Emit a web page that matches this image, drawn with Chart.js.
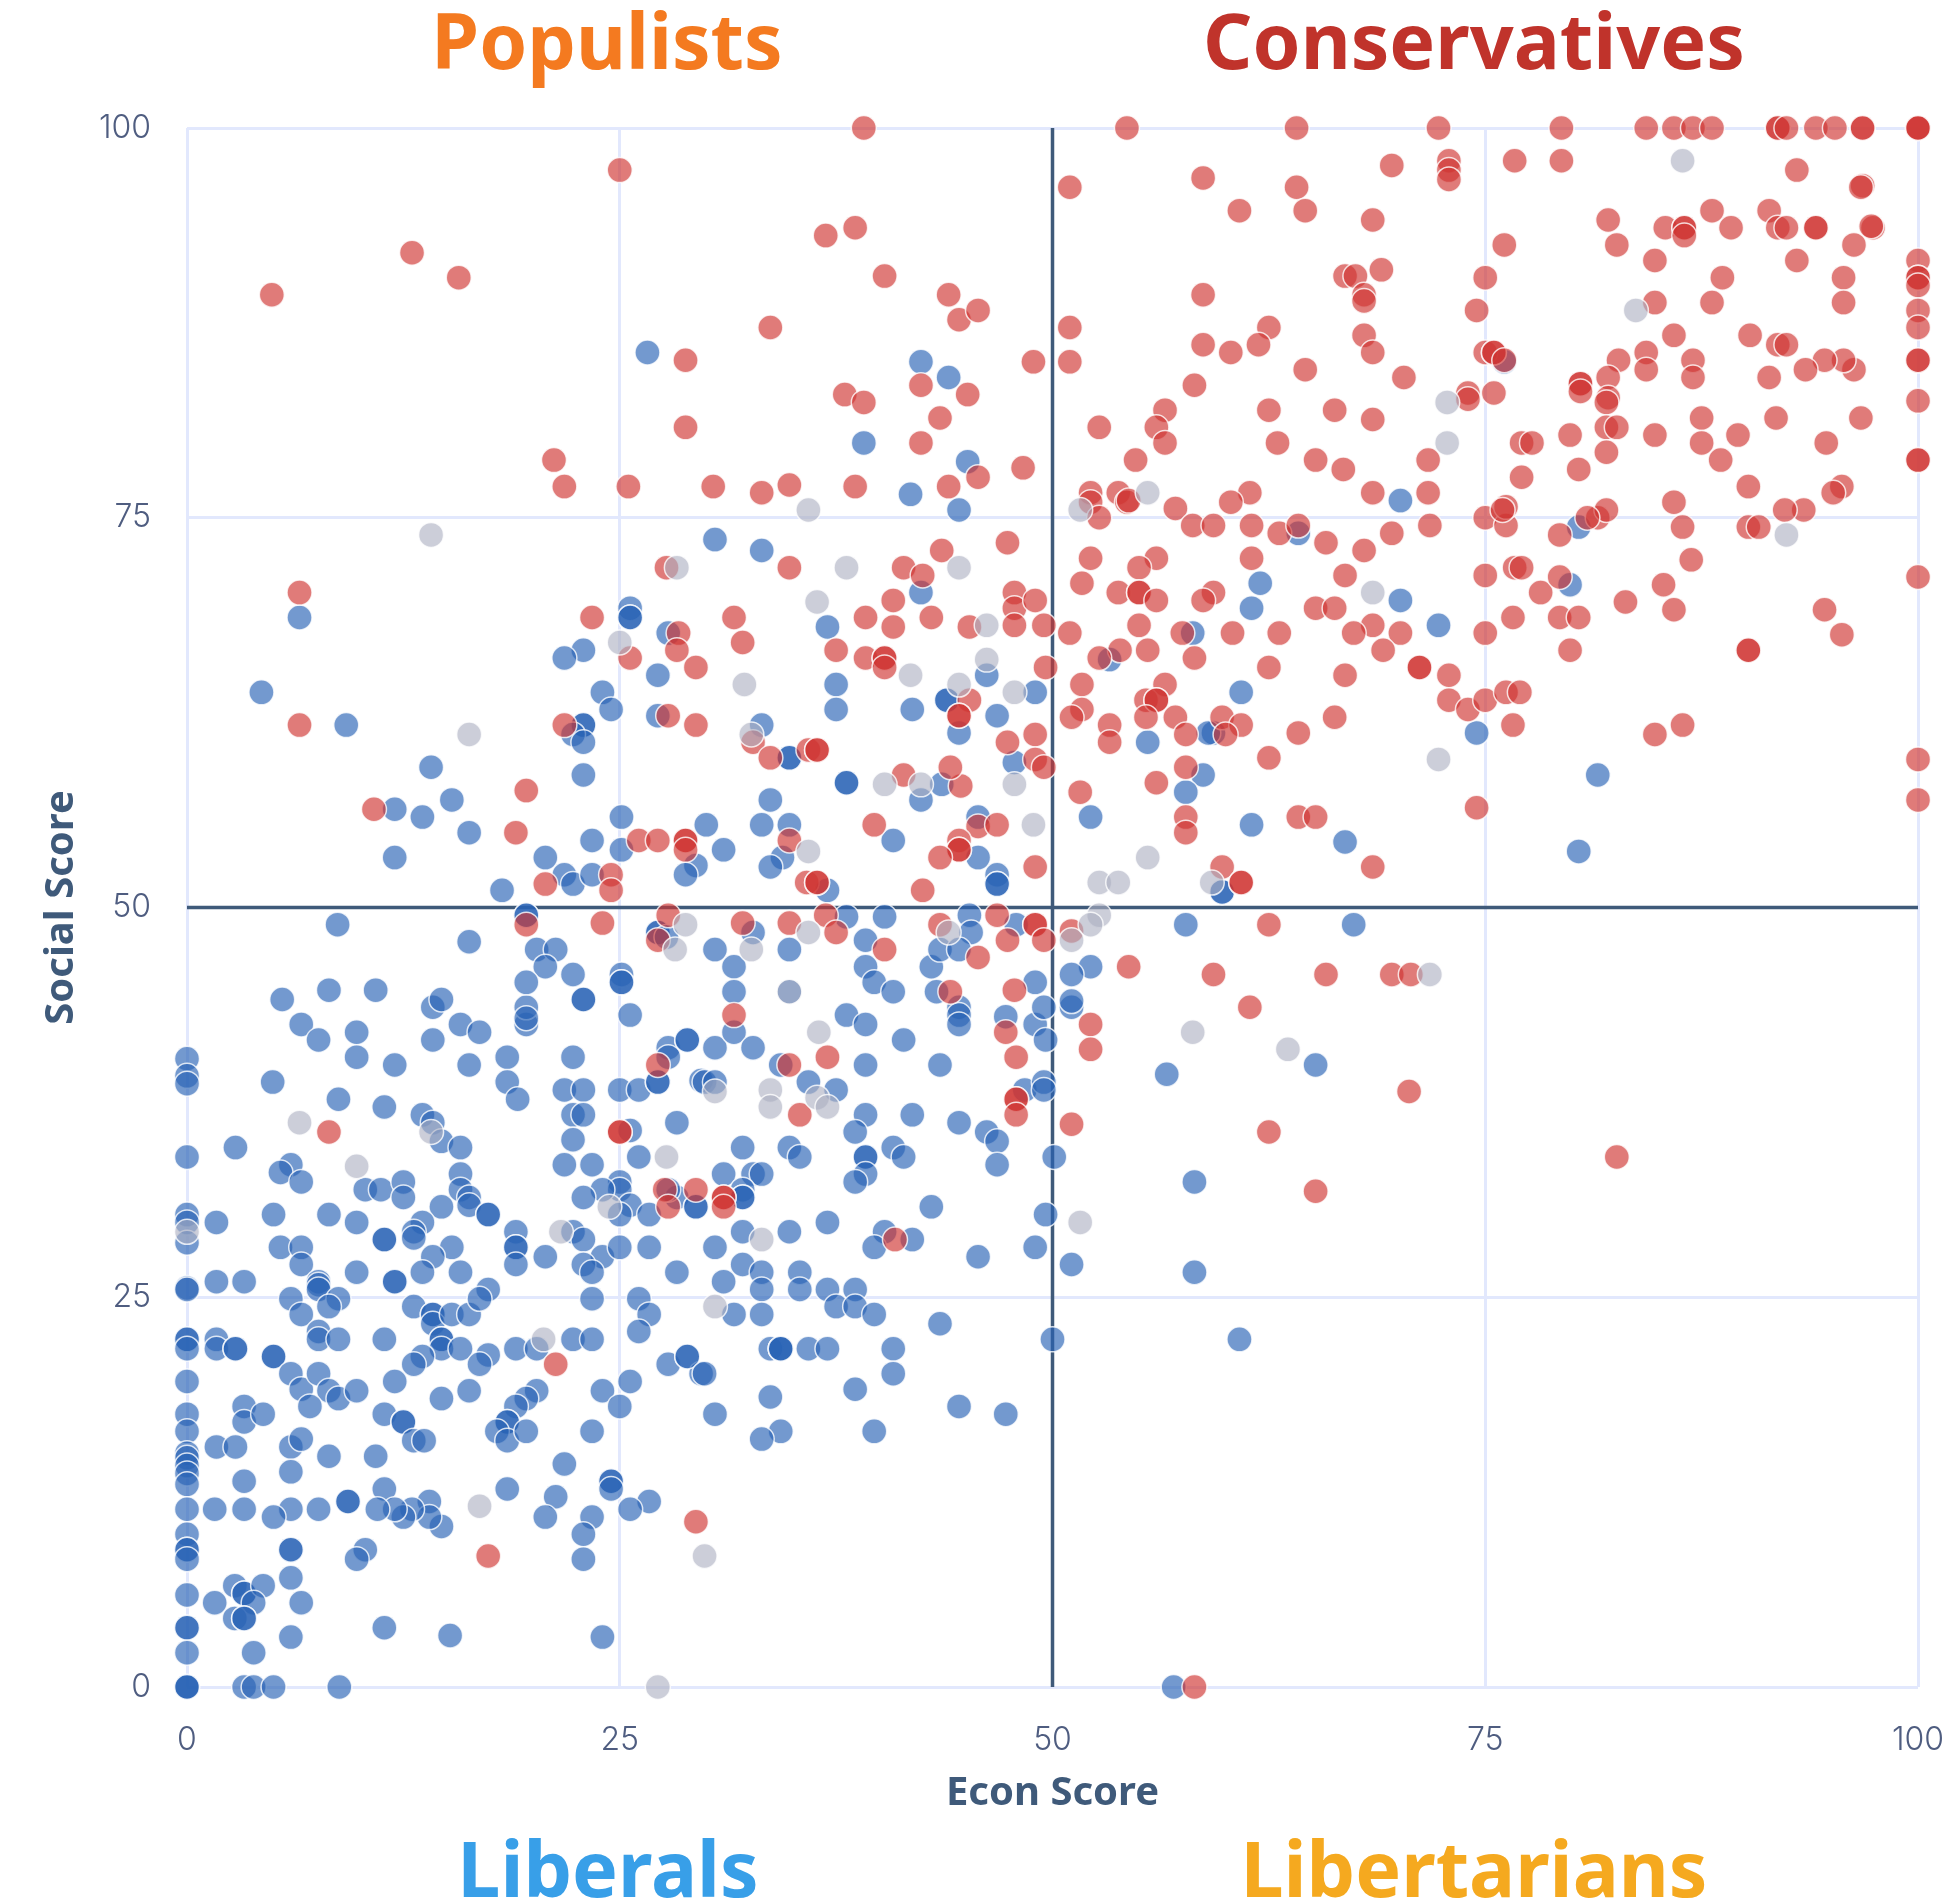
<!DOCTYPE html>
<html lang="en">
<head>
    <meta charset="UTF-8">
    <title>Econ vs Social Score</title>
    <script src="https://cdn.jsdelivr.net/npm/chart.js"></script>
    <style>
        body { margin: 0; background: #fff; }
        .wrap { position: relative; width: 1958px; height: 1901px; overflow: hidden; }
        .quadrant {
            position: absolute;
            width: 800px;
            text-align: center;
            font-family: "Noto Sans", sans-serif;
            font-weight: 700;
            font-size: 77px;
            line-height: 90px;
            white-space: nowrap;
        }
    </style>
</head>
<body>
<div class="wrap">
    <canvas id="chart" width="1958" height="1901"></canvas>
    <div class="quadrant" style="left:207px;top:-5px;color:#f47a20">Populists</div>
    <div class="quadrant" style="left:1074px;top:-5px;color:#c0332b">Conservatives</div>
    <div class="quadrant" style="left:208px;top:1823px;color:#389fe8">Liberals</div>
    <div class="quadrant" style="left:1074px;top:1823px;color:#f5a91f">Libertarians</div>
</div>
<script>
// [econ, social]
const bluePoints = [
    [0,40.3],[0,39.2],[0,38.7],[0,34],[0,30.3],[0,29.8],[0,28.5],[0,25.6],[0,25.5],[0,22.3],[0,22.3],[0,21.7],[0,19.6],[0,17.5],[0,16.4],[0,15],[0,14.7],[0,14.2],[0,13.7],[0,13],[0,11.4],[0,9.8],[0,8.8],[0,8.8],[0,8.2],[0,5.9],[0,3.8],[0,3.8],[0,2.2],[0,0],[0,0],[0,0],
    [5.5,44.1],[6.6,42.5],[7.6,41.5],[9.8,42],[9.8,40.4],[12,39.9],[14.2,41.5],[14.2,43.6],[14.7,44.1],[15.8,42.5],[16.9,42],[16.3,39.9],[18.5,40.4],[18.5,38.8],[19.1,37.7],[19.6,42.5],[19.6,43.6],[22.3,40.4],[22.9,44.1],[25.6,43.1],
    [4.95,38.8],[8.75,37.7],[11.4,37.2],[13.6,36.7],[14.2,36.2],[14.7,35],[15.8,34.6],[15.8,32.9],[15.8,31.9],[16.3,31.4],[16.3,30.9],[14.7,30.8],[17.4,30.3],[17.4,30.3],[2.8,34.6],[6,33.5],[5.4,33],[6.6,32.4],[10.3,31.9],[11.2,31.9],[12.5,32.4],[12.5,31.4],
    [5,30.3],[8.2,30.3],[9.8,29.8],[1.7,29.8],[13.6,29.8],[13.1,29.2],[13.1,28.8],[11.4,28.7],[11.4,28.7],[5.4,28.2],[6.6,28.2],[6.6,27.1],[15.3,28.2],[14.2,27.6],[13.6,26.6],[15.8,26.6],[9.8,26.6],[12,26],[12,26],[7.6,26],[7.6,25.8],[7.6,25.5],[1.7,26],[3.3,26],
    [6,24.9],[6.6,23.9],[8.75,24.9],[8.2,24.4],[13.1,24.4],[14.2,23.9],[14.2,23.9],[14.2,23.3],[15.3,23.9],[16.3,23.9],[17.4,25.5],[16.9,24.9],[19,29.2],[19,28.2],[19,28.2],[19,27.1],[20.7,27.6],[22.3,29.2],[22.9,28.7],[24,27.6],[22.9,27.1],[23.4,26.6],[23.4,24.9],[25,28.2],[26.7,28.2],[28.3,26.6],[26.1,24.9],[26.7,23.9],[26.1,22.8],
    [21.8,38.3],[22.9,38.3],[22.3,36.7],[22.9,36.7],[22.3,35.1],[21.8,33.5],[23.4,33.5],[25,38.3],[26.1,38.3],[27.2,38.8],[27.2,38.8],[27.8,41],[27.8,40.4],[28.9,41.5],[29.7,38.9],[28.3,36.2],[25.6,35.7],[26.1,34],[25,32.4],[25,31.9],[24,31.9],[22.9,31.4],[25.6,30.9],[25,30.3],[26.7,30.3],[28.3,31.4],[27.8,31.9],[29.4,30.8],
    [7.6,22.8],[7.6,22.3],[8.75,22.3],[11.4,22.3],[14.7,22.3],[14.7,22.3],[14.7,21.7],[15.8,21.7],[17.4,21.3],[16.9,20.7],[13.6,21.2],[13.1,20.7],[1.7,22.3],[1.7,21.7],[2.8,21.7],[2.8,21.7],[5,21.2],[5,21.2],[6,20.1],[6.6,19.1],[7.6,20.1],[8.2,19],[8.75,18.5],[9.8,19],[7.1,18],[12,19.6],[14.7,18.5],[16.3,19],[19,21.7],[20.2,21.7],[22.3,22.3],[23.4,22.3],[27.8,20.7],[28.9,21.2],[29.7,20.1],[24,19],[25.6,19.6],[25,18],[20.2,19],[19.6,18.5],[19,18],[18.5,17],[18.5,17],[17.9,16.4],[18.5,15.8],[19.6,16.4],[23.4,16.4],[11.4,17.5],[12.5,17],[12.5,17],[13.1,15.8],[13.7,15.8],[3.3,18],[3.3,17],[4.4,17.5],[1.7,15.4],[2.8,15.4],[6,15.4],[6.6,15.9],[8.2,14.8],[10.9,14.8],[6,13.8],[3.3,13.2],[21.8,14.3],[24.5,13.2],[24.5,13.2],[24.5,12.7],[11.4,12.7],[18.5,12.7],[21.3,12.2],
    [14,11.9],[26.7,11.9],[25.6,11.4],[23.4,10.9],[20.7,10.9],[22.9,9.8],[22.9,8.2],[14.7,10.3],[14,10.9],[13,11.4],[12.5,10.9],[12,11.4],[11,11.4],[9.3,11.9],[9.3,11.9],[7.6,11.4],[6,11.4],[5,10.9],[3.3,11.4],[1.6,11.4],[6,8.8],[6,8.8],[10.3,8.8],[9.8,8.2],[2.76,6.5],[3.3,6],[3.3,6],[4.4,6.5],[3.85,5.4],[1.6,5.4],[6,7],[6.6,5.4],[2.76,4.4],[3.3,4.4],[3.3,4.4],[6,3.2],[11.4,3.8],[15.2,3.3],[24,3.2],[3.85,2.2],[3.3,0],[3.85,0],[5,0],[8.8,0],[57,0],
    [38.1,43.1],[39.2,42.5],[41.4,41.5],[28.9,41.5],[30.5,41],[31.6,42],[32.7,41],[34.3,39.9],[39.2,39.9],[43.5,39.9],[44.6,43.6],[44.6,43.1],[44.6,42.5],[47.3,43],[49,42.5],[49.5,43.6],[49.6,41.5],[51.1,43.6],[29.9,38.8],[30.5,38.8],[35.9,38.8],[37.5,38.3],[48.4,38.3],[49.5,38.8],[49.5,38.3],[56.6,39.3],
    [39.2,36.7],[38.6,35.6],[41.9,36.7],[44.6,36.2],[46.2,35.6],[46.8,35],[46.8,33.5],[50.1,34],[32.1,34.6],[34.8,34.6],[35.4,34],[39.2,34],[39.2,34],[40.8,34.6],[41.4,34],[39.2,32.9],[38.6,32.4],[31,32.9],[32.7,32.9],[33.2,32.9],[32.1,31.9],[32.1,31.4],[32.1,31.4],[29.4,30.8],[58.2,32.4],[43,30.8],[49.6,30.3],[37,29.8],[34.8,29.2],[32.1,29.2],[40.3,29.2],[41.9,28.7],[39.7,28.2],[30.5,28.2],[49,28.2],[45.7,27.6],[51.1,27.1],[58.2,26.6],
    [32.1,27.1],[33.2,26.6],[31,26],[33.2,25.5],[35.4,26.6],[35.4,25.5],[37,25.5],[38.6,25.5],[37.5,24.4],[38.6,24.4],[39.7,23.9],[31.6,23.9],[33.2,23.9],[43.5,23.3],[50,22.3],[60.8,22.3],[33.7,21.7],[34.3,21.7],[34.3,21.7],[34.3,21.7],[35.9,21.7],[37,21.7],[40.8,21.7],[40.8,20.1],[28.9,21.2],[29.9,20.1],[33.7,18.6],[38.6,19.1],[30.5,17.5],[44.6,18],[47.3,17.5],[34.3,16.4],[33.2,15.9],[39.7,16.4],
    [30.5,73.6],[33.2,72.9],[25.6,69.2],[25.6,68.6],[25.6,68.6],[27.8,67.6],[22.9,66.5],[21.8,66],[27.2,64.9],[37,68],[37.5,64.3],[37.5,62.7],[42.4,70.2],[41.9,62.7],[46.8,62.3],[46.2,64.9],[24,63.8],[24.5,62.7],[27.2,62.3],[33.2,61.7],[22.9,61.7],[22.9,61.7],[22.3,61.1],[22.9,60.6],[22.9,58.5],[43.9,63.3],[43.9,63.3],[44.6,61.2],[34.8,59.6],[34.8,59.6],[38.1,58],[38.1,58],[47.8,59.3],[43.6,57.9],[42.4,56.9],[33.7,56.9],[40.8,54.3],[33.2,55.3],[34.8,55.3],[30,55.3],[23.4,54.3],[25.1,55.8],[25.1,53.7],[31,53.7],[20.7,53.2],[21.8,52.1],[22.3,51.5],[23.4,52.1],[29.4,52.7],[28.8,52.1],[34.4,53.2],[33.7,52.6],[37,51.1],[45.7,55.8],[45.7,53.2],[46.8,52.1],[46.8,51.5],[46.8,51.5],[18.2,51.1],[19.6,49.5],[19.6,49.5],[38.1,49.4],[40.3,49.4],[45.2,49.5],[45.3,48.4],[47.9,48.9],
    [27.2,48.4],[27.2,48.4],[27.7,48.1],[20.2,47.3],[21.3,47.3],[20.7,46.2],[22.3,45.7],[19.6,45.2],[22.9,44.1],[19.6,42.9],[25.1,45.7],[25.1,45.2],[25.1,45.2],[32.7,48.4],[30.5,47.3],[34.8,47.3],[39.2,47.9],[39.2,46.2],[39.7,45.2],[40.8,44.6],[31.6,46.2],[31.6,44.6],[34.8,44.6],[43.3,44.6],[43,46.2],[43.5,47.3],[44.6,47.3],
    [26.6,85.6],[42.4,85],[44,84],[39.1,79.8],[45.1,78.6],[41.8,76.5],[44.6,75.5],[6.5,68.6],[4.3,63.8],[9.2,61.7],[14.1,59],[15.3,56.9],[12,56.3],[13.6,55.8],[16.3,54.8],[12,53.2],[8.7,48.9],[16.3,47.8],[10.9,44.7],[8.2,44.7],
    [70.1,76.1],[64.2,74],[62,70.8],[61.5,69.2],[70.1,69.7],[72.3,68.1],[58.1,67.6],[53.3,65.9],[49,63.8],[60.9,63.8],[59.3,61.2],[55.5,60.6],[74.5,61.2],[58.7,58.5],[57.7,57.4],[52.2,55.8],[61.5,55.3],[66.9,54.2],[59.8,51],[59.8,51],[57.7,48.9],[67.4,48.9],[52.2,46.2],[51.1,45.7],[49,45.2],[51.1,44],[65.2,39.9],[81.5,58.5],[80.4,53.6],[80.4,74.4],[79.9,70.7],[59,61.2],[76.1,85]
];
const redPoints = [
    [39.1,100],[54.3,100],[64.1,100],[72.3,100],[79.4,100],[84.3,100],[85.9,100],[87,100],[88.1,100],[91.9,100],[91.9,100],[92.4,100],[94.1,100],[95.2,100],[96.8,100],[96.8,100],[100,100],[100,100],[100,100],
    [72.9,97.9],[72.9,97.3],[72.9,96.7],[69.6,97.6],[76.7,97.9],[79.4,97.9],[93,97.3],[96.8,96.3],[82.1,94.1],[82.6,92.5],[85.4,93.6],[86.5,93.6],[86.5,93.6],[86.5,93.1],[88.1,94.7],[89.2,93.6],[91.4,94.7],[91.9,93.6],[92.4,93.6],[94.1,93.6],[94.1,93.6],[97.4,93.6],[96.3,92.5],[84.8,91.5],[93,91.5],[100,91.5],[100,90.4],[100,90.4],[100,89.9],[100,88.3],[100,87.2],[88.7,90.4],[95.7,90.4],[88.1,88.8],[95.7,88.8],[84.8,88.8],[76.1,92.5],[75,90.4],[74.5,88.3],[85.9,86.7],[90.3,86.7],[91.9,86.1],[92.4,86.1],[96.3,84.5],[95.7,85.1],[94.6,85.1],[93.5,84.5],[91.4,84],[84.3,85.6],[84.3,84.5],[82.7,85.1],[82.1,84],[87,85.1],[87,84],[100,85.1],[100,85.1],[100,82.5],[75,85.6],[75.5,85.6],[75.5,85.6],[76.1,85.1],[80.5,83.6],[80.5,83.6],[80.5,83.1],[82.1,82.7],[70.3,84],[74,83],[74,82.6],[75.5,83],
    [15.7,90.4],[13,92],[4.9,89.3],[25,97.3],[38.6,93.6],[36.9,93.1],[40.3,90.5],[44,89.3],[44.6,87.7],[45.7,88.3],[33.7,87.2],[28.8,85.1],[28.8,80.8],[38,82.9],[39.1,82.4],[42.4,83.5],[45.1,82.9],[43.5,81.4],[42.4,79.8],[48.3,78.2],[45.7,77.6],[44,77],[38.6,77],[34.8,77.1],[33.2,76.6],[30.4,77],[25.5,77],[21.2,78.7],[21.8,77],
    [51,96.2],[58.7,96.8],[64.1,96.2],[64.6,94.7],[60.8,94.7],[68.5,94.1],[69,90.9],[66.9,90.5],[67.5,90.5],[68,89.3],[68,88.9],[58.7,89.3],[51,87.2],[51,85],[48.9,85],[58.7,86.1],[62.5,87.2],[61.9,86.1],[60.3,85.6],[68,86.7],[68.5,85.6],[64.6,84.5],[58.2,83.5],[56.5,81.9],[56,80.8],[56.5,79.8],[62.5,81.9],[66.3,81.9],[68.5,81.3],[63,79.8],[52.7,80.8],[54.8,78.7],[65.2,78.7],[66.8,78.1],[71.7,78.7],[68.5,76.6],[61.4,76.6],[71.7,76.6],[60.3,76],[52.2,76.6],[52.2,76],[53.8,76.6],[54.3,76],
    [57.1,75.6],[58.1,74.5],[59.3,74.5],[61.5,74.5],[63.1,74],[64.2,74.5],[65.8,73.4],[68,72.9],[69.6,74],[71.8,74.5],[75,75],[76.2,74.5],[76.2,75.7],[61.5,72.4],[66.9,71.3],[75,71.3],[76.7,71.8],[76.6,68.6],[75,67.6],[65.2,69.2],[66.3,69.2],[68.5,68.1],[67.4,67.6],[70.1,67.6],[69.1,66.5],[60.4,67.6],[63.1,67.6],[62.5,65.4],[66.9,64.9],[71.2,65.4],[71.2,65.4],[72.9,64.9],[72.9,63.3],[74,62.7],[75,63.3],[76.2,63.8],[77,63.8],[76.6,61.7],[59.3,70.2],[58.7,69.7],[56,72.4],[55,71.8],[52.2,72.4],[51.7,70.8],[53.8,70.2],[55,70.2],[55,70.2],[56,69.7],[55,68.1],[51,67.6],[49.5,68.1],[47.8,70.2],[47.8,69.2],[47.8,68.1],[49,69.7],[47.4,73.4],[52.7,75],[54.4,76.1],[49.6,65.4],[57.5,67.6],[58.2,66],[55.5,66.5],[53.9,66.5],[52.7,66],[56.5,64.3],[51.7,64.3],[51.7,62.7],[51.1,62.2],[55.4,63.3],[56,63.3],[56,63.3],[55.4,62.2],[57.1,62.2],[57.7,61.1],[59.8,62.2],[60.9,61.7],[60,61.1],[53.3,61.7],[53.3,60.6],[49,61.1],[47.4,60.6],[49,59.5],[49.5,59],[57.7,59],[64.2,61.2],[66.3,62.2],[62.5,59.6],[56,58],[51.6,57.4],[57.7,55.8],[57.7,54.8],[64.2,55.8],[65.2,55.8],[74.5,56.4],[59.8,52.6],[60.9,51.6],[60.9,51.6],[68.5,52.6],[49,52.6],[49,48.9],[49,48.9],[49.5,47.9],[47.4,47.9],[51.1,48.5],[62.5,48.9],[54.4,46.2],[59.3,45.7],[65.8,45.7],[69.6,45.7],[70.7,45.7],[47.8,44.7],[61.4,43.6],
    [77.1,79.8],[77.7,79.8],[77.1,77.6],[76,75.5],[77.1,71.8],[78.2,70.2],[79.3,71.2],[79.3,73.9],[79.9,80.3],[80.4,78.1],[82,82.4],[82,80.8],[82.6,80.8],[82,79.2],[81.5,75],[82,75.5],[80.9,75],[79.3,68.6],[80.4,68.6],[79.9,66.5],[83.1,69.6],[85.3,70.7],[85.9,69.1],[85.9,76],[86.4,74.4],[86.9,72.3],[84.8,80.3],[87.5,81.4],[87.5,79.8],[88.6,78.7],[89.6,80.3],[90.2,77],[90.2,74.4],[90.8,74.4],[91.8,81.4],[94.7,79.8],[96.7,81.4],[95.6,77],[95.1,76.6],[93.4,75.5],[92.3,75.5],[94.6,69.1],[95.6,67.5],[90.2,66.5],[90.2,66.5],[84.8,61.1],[86.4,61.7],[100,78.7],[100,78.7],[100,71.2],[100,59.5],[100,56.9],[96.7,96.2],[97.3,93.7],
    [27.7,71.8],[34.8,71.8],[41.4,71.8],[42.5,71.3],[43.6,72.9],[40.8,69.7],[39.2,68.6],[40.8,68],[43,68.6],[45.2,68],[23.4,68.6],[28.4,67.6],[31.6,68.6],[32.1,67],[28.3,66.5],[29.4,65.4],[25.6,66],[37.5,66.5],[39.2,66],[40.3,66],[40.3,66],[40.3,65.4],[45.2,63.3],[44.6,62.3],[44.6,62.3],[21.8,61.7],[27.8,62.3],[29.4,61.7],[32.7,60.6],[33.7,59.6],[35.9,60.1],[36.4,60.1],[36.4,60.1],[19.6,57.5],[19,54.8],[41.4,58.5],[44.7,57.8],[44.1,59],[39.7,55.3],[45.7,55.2],[46.8,55.3],[44.6,54.3],[44.6,53.7],[44.6,53.7],[43.5,53.2],[42.5,51.1],[26.1,54.3],[27.2,54.3],[28.8,54.3],[28.8,54.3],[28.8,53.7],[34.8,54.3],[20.7,51.5],[24.5,52.1],[24.5,51.1],[35.8,51.6],[36.4,51.6],[36.4,51.6],[19.6,48.9],[27.8,49.5],[24,49],[32.1,49],[34.8,49],[36.9,49.5],[37.5,48.4],[40.3,47.3],[43.5,48.9],[46.8,49.5],[45.7,46.8],[27.2,47.9],[44.1,44.6],[31.6,43.1],[10.8,56.3],
    [8.2,35.6],[21.3,20.7],[25,35.6],[25,35.6],[27.2,39.9],[27.6,31.9],[27.8,30.8],[29.4,31.9],[34.8,39.9],[37,40.4],[35.4,36.7],[47.3,42],[47.9,40.4],[52.2,42.5],[52.2,40.9],[47.9,37.7],[47.9,37.7],[47.9,36.7],[51.1,36.1],[31,31.4],[31,31.4],[31,30.8],[40.9,28.7],[29.4,10.6],[17.4,8.4],[6.5,70.2],[6.5,61.7],[70.6,38.2],[62.5,35.6],[65.2,31.8],[82.6,34],[58.2,0]
];
const greyPoints = [
    [14.1,73.9],[86.4,97.9],[72.8,82.4],[72.8,79.8],[83.7,88.3],[68.5,70.2],[92.4,73.9],[72.3,59.5],[71.8,45.7],[51.6,75.5],[55.5,76.6],[35.9,75.5],[44.6,71.8],[38.1,71.8],[36.4,69.6],[28.3,71.8],[25,67],[16.3,61.1],[32.2,64.3],[32.6,61.1],[41.8,64.9],[44.6,64.3],[46.2,65.9],[46.2,68.1],[47.8,63.8],[47.8,57.9],[40.3,57.9],[42.4,57.9],[48.9,55.3],[35.9,53.6],[55.5,53.2],[52.7,51.6],[53.8,51.6],[59.2,51.6],[52.7,49.5],[52.2,48.9],[51.1,47.9],[28.8,48.9],[28.2,47.3],[35.9,48.4],[32.6,47.3],[34.8,44.6],[44,48.4],[58.1,42],[63.6,40.9],[36.5,42],[30.5,38.2],[33.7,38.3],[33.7,37.2],[36.4,37.8],[37,37.2],[6.5,36.2],[14.1,35.6],[9.8,33.4],[27.7,34],[51.6,29.8],[0,29.2],[21.6,29.2],[24.4,30.8],[33.2,28.7],[30.5,24.4],[20.6,22.3],[16.9,11.6],[29.9,8.4],[27.2,0]
];
const axisTicks = [0, 25, 50, 75, 100];
const centreValue = 50;

const titleFont = { family: '"Noto Sans", sans-serif', size: 40, weight: '700' };
const tickFont = { family: 'Inter, sans-serif', size: 32, weight: '300' };

function dotSet(label, points, fill, order) {
    return {
        label: label,
        data: points.map(p => ({ x: p[0], y: p[1] })),
        backgroundColor: fill,
        borderColor: 'rgba(255, 255, 255, 0.8)',
        borderWidth: 1.5,
        pointRadius: 12.5,
        clip: false,
        order: order
    };
}

function centreLine(label, points) {
    return {
        label: label,
        type: 'line',
        data: points,
        borderColor: '#3f5a7a',
        borderWidth: 3.5,
        pointRadius: 0,
        order: 10
    };
}

new Chart(document.getElementById('chart'), {
    type: 'scatter',
    data: {
        datasets: [
            dotSet('Other', greyPoints, 'rgba(172, 176, 194, 0.62)', 1),
            dotSet('Red', redPoints, 'rgba(207, 52, 49, 0.65)', 2),
            dotSet('Blue', bluePoints, 'rgba(40, 98, 181, 0.65)', 3),
            centreLine('Econ centre', [{ x: centreValue, y: 0 }, { x: centreValue, y: 100 }]),
            centreLine('Social centre', [{ x: 0, y: centreValue }, { x: 100, y: centreValue }])
        ]
    },
    options: {
        responsive: false,
        animation: false,
        layout: { padding: { left: 38, top: 128, right: 40, bottom: 83 } },
        plugins: { legend: { display: false }, tooltip: { enabled: false } },
        scales: {
            x: {
                min: 0,
                max: 100,
                afterBuildTicks: scale => { scale.ticks = axisTicks.map(v => ({ value: v })); },
                afterFit: scale => {
                    scale.height = 131;
                    scale.paddingLeft = 0;
                    scale.paddingRight = 0;
                },
                grid: { color: '#e2e8fd', lineWidth: 3, drawTicks: false },
                border: { display: false },
                ticks: { color: '#4f5d80', font: tickFont, padding: 34, maxRotation: 0 },
                title: { display: true, text: 'Econ Score', color: '#3f5a7a', font: titleFont, padding: 0 }
            },
            y: {
                min: 0,
                max: 100,
                afterBuildTicks: scale => { scale.ticks = axisTicks.map(v => ({ value: v })); },
                afterFit: scale => { scale.width = 149; },
                grid: { color: '#e2e8fd', lineWidth: 3, drawTicks: false },
                border: { display: false },
                ticks: { color: '#4f5d80', font: tickFont, padding: 36 },
                title: { display: true, text: 'Social Score', color: '#3f5a7a', font: titleFont, padding: 0 }
            }
        }
    }
});
</script>
</body>
</html>
